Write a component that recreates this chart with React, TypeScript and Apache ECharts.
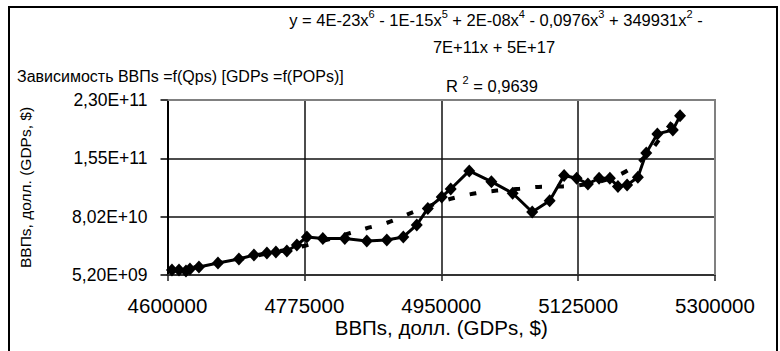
import React, { useEffect, useRef } from "react";
import * as echarts from "echarts";

const gdpX: number[] = [
  4605700, 4614700, 4623600, 4628700, 4640200, 4664500, 4691300, 4710500, 4727100, 4738600,
  4752600, 4765400, 4778200, 4798600, 4826700, 4854800, 4880400, 4901500, 4918700, 4932800,
  4950600, 4962100, 4985800, 5014100, 5041300, 5066300, 5088600, 5107100, 5123100, 5137500,
  5151800, 5165600, 5175900, 5187600, 5201400, 5212100, 5226300, 5246100, 5255300,
];
const gdpY: number[] = [
  11.6e9, 11.6e9, 10.3e9, 12.9e9, 15.5e9, 20.6e9, 25.8e9, 30.9e9, 33.5e9, 34.8e9,
  36.1e9, 43.8e9, 54.1e9, 52.2e9, 52.2e9, 48.9e9, 50.2e9, 54.1e9, 69.5e9, 90.8e9,
  105.5e9, 115.8e9, 139.0e9, 125.2e9, 110.3e9, 86.2e9, 100.8e9, 133.2e9, 129.6e9, 122.3e9,
  129.6e9, 129.6e9, 119.1e9, 121.0e9, 130.9e9, 162.2e9, 186.6e9, 191.7e9, 209.8e9,
];
const trendX: number[] = [
  4605700, 4641500, 4686200, 4730900, 4771800, 4814000, 4853600, 4881700, 4908500, 4936600,
  4964700, 4994100, 5020900, 5050300, 5078400, 5105200, 5135900, 5162700, 5189500, 5216300,
  5239300, 5255900,
];
const trendY: number[] = [
  10.3e9, 16.1e9, 24.5e9, 33.5e9, 41.9e9, 53.4e9, 65.0e9, 72.7e9, 83.7e9, 94.6e9,
  103.9e9, 110.3e9, 113.7e9, 116.2e9, 118.8e9, 119.1e9, 121.9e9, 128.1e9, 140.3e9, 163.4e9,
  194.3e9, 214.9e9,
];
const xTicks: number[] = [4600000, 4775000, 4950000, 5125000, 5300000];
const yTicks: number[] = [5.2e9, 80.2e9, 155.2e9, 230.2e9];
const yTickLabels: string[] = ["5,20E+09", "8,02E+10", "1,55E+11", "2,30E+11"];

const FONT = "'Liberation Sans', Arial, sans-serif";

export default function App() {
  const ref = useRef<HTMLDivElement>(null);
  useEffect(() => {
    if (!ref.current) return;
    const chart = echarts.init(ref.current, null, { renderer: "svg" });
    const gridLeft = 167.5;
    const gridTop = 100;
    const gridRight = 715;
    const gridBottom = 275;
    chart.setOption({
      animation: false,
      backgroundColor: "#ffffff",
      textStyle: { fontFamily: FONT },
      grid: {
        left: gridLeft,
        top: gridTop,
        width: gridRight - gridLeft,
        height: gridBottom - gridTop,
        show: false,
      },
      xAxis: {
        type: "value",
        min: 4600000,
        max: 5300000,
        name: "ВВПs, долл. (GDPs, $)",
        nameLocation: "middle",
        nameGap: 40,
        nameTextStyle: { fontSize: 20.5, color: "#000", fontFamily: FONT },
        axisLine: { show: true, onZero: false, lineStyle: { color: "#333", width: 2 } },
        axisTick: {
          show: true,
          customValues: xTicks,
          length: 6,
          lineStyle: { color: "#222", width: 1.5 },
        },
        axisLabel: {
          customValues: xTicks,
          margin: 20,
          fontSize: 20.5,
          color: "#000",
          fontFamily: FONT,
          formatter: (v: number) => String(Math.round(v)),
        },
        splitLine: { show: true, lineStyle: { color: "#111", width: 1.5 } },
      },
      yAxis: {
        type: "value",
        min: 5.2e9,
        max: 230.2e9,
        name: "ВВПs, долл. (GDPs, $)",
        nameLocation: "middle",
        nameGap: 134,
        nameTextStyle: { fontSize: 15.5, color: "#000", fontFamily: FONT },
        axisLine: { show: true, onZero: false, lineStyle: { color: "#000", width: 2 } },
        axisTick: {
          show: true,
          customValues: yTicks,
          length: 7,
          lineStyle: { color: "#000", width: 1.5 },
        },
        axisLabel: {
          customValues: yTicks,
          margin: 20,
          fontSize: 17.5,
          color: "#000",
          fontFamily: FONT,
          formatter: (v: number) => {
            const i = yTicks.findIndex((t) => Math.abs(t - v) < 1e8);
            return i >= 0 ? yTickLabels[i] : "";
          },
        },
        splitLine: { show: true, lineStyle: { color: "#111", width: 1.5 } },
      },
      series: [
        {
          type: "line",
          name: "trend",
          data: trendX.map((x, i) => [x, trendY[i]]),
          showSymbol: false,
          smooth: 0.3,
          lineStyle: { color: "#000", width: 4, type: [7, 15] },
          z: 2,
        },
        {
          type: "line",
          name: "data",
          data: gdpX.map((x, i) => [x, gdpY[i]]),
          symbol: "diamond",
          symbolSize: [12, 13],
          itemStyle: { color: "#000" },
          lineStyle: { color: "#000", width: 3 },
          z: 3,
        },
      ],
      graphic: [
        {
          type: "rect",
          shape: { x: 9, y: 7, width: 768, height: 360 },
          style: { fill: "none", stroke: "#000", lineWidth: 2 },
          silent: true,
          z: 10,
        },
        {
          type: "polyline",
          shape: { points: [[gridLeft, gridTop], [gridRight, gridTop], [gridRight, gridBottom]] },
          style: { fill: "none", stroke: "#808080", lineWidth: 2 },
          silent: true,
          z: 10,
        },
        {
          type: "text",
          x: 17,
          y: 76,
          style: {
            text: "Зависимость ВВПs =f(Qps) [GDPs =f(POPs)]",
            fontSize: 16,
            fontFamily: FONT,
            fill: "#000",
            textVerticalAlign: "middle",
          },
          z: 11,
        },
        {
          type: "text",
          x: 496,
          y: 18,
          style: {
            text:
              "{n|y = 4E-23x}{s|6}{n| - 1E-15x}{s|5}{n| + 2E-08x}{s|4}{n| - 0,0976x}{s|3}{n| + 349931x}{s|2}{n| -}",
            textAlign: "center",
            textVerticalAlign: "middle",
            fill: "#000",
            rich: {
              n: { fontSize: 16.5, fontFamily: FONT, lineHeight: 20, fill: "#000", verticalAlign: "bottom" },
              s: { fontSize: 11, fontFamily: FONT, lineHeight: 12, fill: "#000", verticalAlign: "top" },
            },
          },
          z: 11,
        },
        {
          type: "text",
          x: 494,
          y: 47,
          style: {
            text: "7E+11x + 5E+17",
            fontSize: 16.5,
            fontFamily: FONT,
            fill: "#000",
            textAlign: "center",
            textVerticalAlign: "middle",
          },
          z: 11,
        },
        {
          type: "text",
          x: 492,
          y: 84,
          style: {
            text: "{n|R }{s|2}{n| = 0,9639}",
            textAlign: "center",
            textVerticalAlign: "middle",
            fill: "#000",
            rich: {
              n: { fontSize: 16.5, fontFamily: FONT, lineHeight: 20, fill: "#000", verticalAlign: "bottom" },
              s: { fontSize: 11, fontFamily: FONT, lineHeight: 12, fill: "#000", verticalAlign: "top" },
            },
          },
          z: 11,
        },
      ],
    });
    return () => chart.dispose();
  }, []);
  return <div ref={ref} style={{ width: 780, height: 351, position: "absolute", left: 0, top: 0 }} />;
}
